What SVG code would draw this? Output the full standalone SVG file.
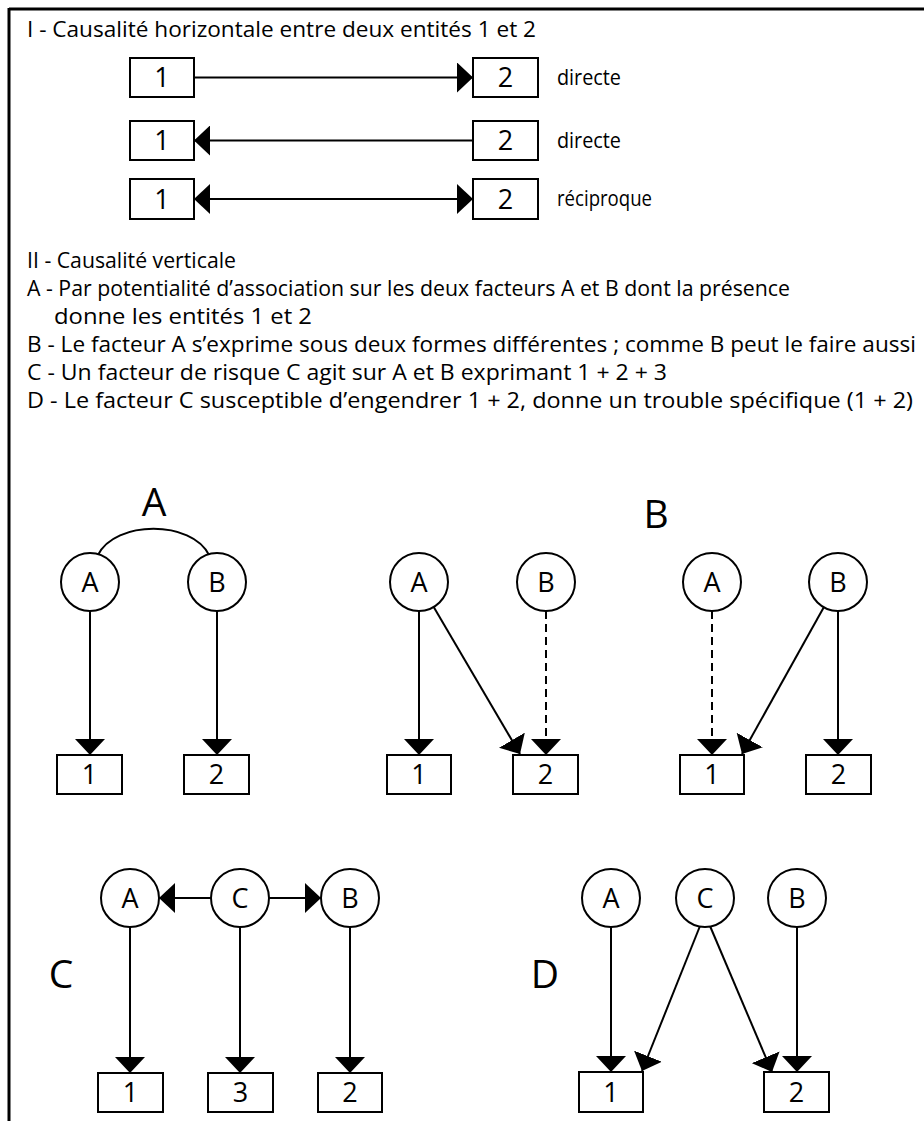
<svg xmlns="http://www.w3.org/2000/svg" width="924" height="1121" viewBox="0 0 924 1121">
<style>
.t{font-family:"Open Sans","Liberation Sans",sans-serif;font-size:21px;fill:#000}
.d{font-family:"Open Sans","Liberation Sans",sans-serif;font-size:27px;fill:#000;text-anchor:middle}
.big{font-family:"Open Sans","Liberation Sans",sans-serif;font-size:39px;fill:#000;text-anchor:middle}
.box{fill:#fff;stroke:#000;stroke-width:2}
.cir{fill:#fff;stroke:#000;stroke-width:2}
.ln{fill:none;stroke:#000;stroke-width:2}
.ar{fill:none;stroke:#000;stroke-width:2;marker-end:url(#ah)}
.dash{stroke-dasharray:8 5}
.frame{stroke:#000;stroke-width:3;fill:none}
</style>
<defs>
<marker id="ah" markerUnits="userSpaceOnUse" viewBox="0 0 16 30" refX="16" refY="15" markerWidth="16" markerHeight="30" orient="auto">
<path d="M0,0 L16,15 L0,30 Z" fill="#000"/>
</marker>
<marker id="ahs" markerUnits="userSpaceOnUse" viewBox="0 0 16 30" refX="0" refY="15" markerWidth="16" markerHeight="30" orient="auto">
<path d="M16,0 L0,15 L16,30 Z" fill="#000"/>
</marker>
</defs>
<rect x="0" y="0" width="924" height="1121" fill="#fff"/>
<g id="frame">
<line class="frame" x1="9" y1="9" x2="924" y2="9"/>
<line class="frame" x1="9" y1="8" x2="9" y2="1121"/>
</g>
<g id="texts">
<text class="t" x="27" y="37" textLength="509" lengthAdjust="spacingAndGlyphs">I - Causalité horizontale entre deux entités 1 et 2</text>
<text class="t" x="557" y="85" textLength="64" lengthAdjust="spacingAndGlyphs">directe</text>
<text class="t" x="557" y="148" textLength="64" lengthAdjust="spacingAndGlyphs">directe</text>
<text class="t" x="557" y="206" textLength="95" lengthAdjust="spacingAndGlyphs">réciproque</text>
<text class="t" x="27" y="268" textLength="209" lengthAdjust="spacingAndGlyphs">II - Causalité verticale</text>
<text class="t" x="27" y="296" textLength="763" lengthAdjust="spacingAndGlyphs">A - Par potentialité d’association sur les deux facteurs A et B dont la présence</text>
<text class="t" x="54" y="324" textLength="258" lengthAdjust="spacingAndGlyphs">donne les entités 1 et 2</text>
<text class="t" x="27" y="352" textLength="889" lengthAdjust="spacingAndGlyphs">B - Le facteur A s’exprime sous deux formes différentes ; comme B peut le faire aussi</text>
<text class="t" x="27" y="380" textLength="640" lengthAdjust="spacingAndGlyphs">C - Un facteur de risque C agit sur A et B exprimant 1 + 2 + 3</text>
<text class="t" x="27" y="408" textLength="886" lengthAdjust="spacingAndGlyphs">D - Le facteur C susceptible d’engendrer 1 + 2, donne un trouble spécifique (1 + 2)</text>
<text class="big" x="154" y="516">A</text>
<text class="big" x="656" y="528">B</text>
<text class="big" x="61" y="988">C</text>
<text class="big" x="545" y="988">D</text>
</g>
<g id="connectors">
<line class="ar" x1="194" y1="77.5" x2="473" y2="77.5"/>
<line class="ar" x1="473" y1="140.5" x2="194" y2="140.5"/>
<line class="ar" x1="194" y1="199" x2="473" y2="199" style="marker-start:url(#ahs)"/>
<path class="ln" d="M98 555 C115 520 192 520 209 555"/>
<line class="ar" x1="90" y1="611" x2="90" y2="755"/>
<line class="ar" x1="217" y1="611" x2="217" y2="755"/>
<line class="ar" x1="419" y1="611" x2="419" y2="755"/>
<line class="ar" x1="433.7" y1="607" x2="520" y2="754"/>
<line class="ar dash" x1="546" y1="611" x2="546" y2="755"/>
<line class="ar dash" x1="712" y1="611" x2="712" y2="755"/>
<line class="ar" x1="823.8" y1="607.3" x2="742" y2="754"/>
<line class="ar" x1="838" y1="611" x2="838" y2="755"/>
<line class="ar" x1="211" y1="898" x2="159" y2="898"/>
<line class="ar" x1="269" y1="898" x2="321" y2="898"/>
<line class="ar" x1="130" y1="927" x2="130" y2="1073"/>
<line class="ar" x1="240" y1="927" x2="240" y2="1073"/>
<line class="ar" x1="350" y1="927" x2="350" y2="1073"/>
<line class="ar" x1="611" y1="927" x2="611" y2="1072"/>
<line class="ar" x1="700" y1="926" x2="642" y2="1071"/>
<line class="ar" x1="710" y1="926" x2="772" y2="1072"/>
<line class="ar" x1="797" y1="927" x2="797" y2="1072"/>
</g>
<g id="h1a"><rect class="box" x="130" y="58" width="64" height="39"/><text class="d" x="162" y="87">1</text></g>
<g id="h1b"><rect class="box" x="473" y="58" width="65" height="39"/><text class="d" x="505.5" y="87">2</text></g>
<g id="h2a"><rect class="box" x="130" y="121" width="64" height="39"/><text class="d" x="162" y="150">1</text></g>
<g id="h2b"><rect class="box" x="473" y="121" width="65" height="39"/><text class="d" x="505.5" y="150">2</text></g>
<g id="h3a"><rect class="box" x="130" y="179" width="64" height="40"/><text class="d" x="162" y="209">1</text></g>
<g id="h3b"><rect class="box" x="473" y="179" width="65" height="40"/><text class="d" x="505.5" y="209">2</text></g>
<g id="a_A"><circle class="cir" cx="90" cy="582" r="29"/><text class="d" x="90" y="592">A</text></g>
<g id="a_B"><circle class="cir" cx="217" cy="582" r="29"/><text class="d" x="217" y="592">B</text></g>
<g id="a_1"><rect class="box" x="57" y="755" width="65" height="39"/><text class="d" x="89.5" y="784">1</text></g>
<g id="a_2"><rect class="box" x="184" y="755" width="65" height="39"/><text class="d" x="216.5" y="784">2</text></g>
<g id="b1_A"><circle class="cir" cx="419" cy="582" r="29"/><text class="d" x="419" y="592">A</text></g>
<g id="b1_B"><circle class="cir" cx="546" cy="582" r="29"/><text class="d" x="546" y="592">B</text></g>
<g id="b1_1"><rect class="box" x="387" y="755" width="64" height="39"/><text class="d" x="419" y="784">1</text></g>
<g id="b1_2"><rect class="box" x="513" y="755" width="65" height="39"/><text class="d" x="545.5" y="784">2</text></g>
<g id="b2_A"><circle class="cir" cx="712" cy="582" r="29"/><text class="d" x="712" y="592">A</text></g>
<g id="b2_B"><circle class="cir" cx="838" cy="582" r="29"/><text class="d" x="838" y="592">B</text></g>
<g id="b2_1"><rect class="box" x="680" y="755" width="64" height="39"/><text class="d" x="712" y="784">1</text></g>
<g id="b2_2"><rect class="box" x="806" y="755" width="65" height="39"/><text class="d" x="838.5" y="784">2</text></g>
<g id="c_A"><circle class="cir" cx="130" cy="898" r="29"/><text class="d" x="130" y="908">A</text></g>
<g id="c_C"><circle class="cir" cx="240" cy="898" r="29"/><text class="d" x="240" y="908">C</text></g>
<g id="c_B"><circle class="cir" cx="350" cy="898" r="29"/><text class="d" x="350" y="908">B</text></g>
<g id="c_1"><rect class="box" x="98" y="1073" width="65" height="39"/><text class="d" x="130.5" y="1102">1</text></g>
<g id="c_3"><rect class="box" x="208" y="1073" width="65" height="39"/><text class="d" x="240.5" y="1102">3</text></g>
<g id="c_2"><rect class="box" x="318" y="1073" width="64" height="39"/><text class="d" x="350" y="1102">2</text></g>
<g id="d_A"><circle class="cir" cx="611" cy="898" r="29"/><text class="d" x="611" y="908">A</text></g>
<g id="d_C"><circle class="cir" cx="705" cy="898" r="29"/><text class="d" x="705" y="908">C</text></g>
<g id="d_B"><circle class="cir" cx="797" cy="898" r="29"/><text class="d" x="797" y="908">B</text></g>
<g id="d_1"><rect class="box" x="579" y="1072" width="64" height="40"/><text class="d" x="611" y="1102">1</text></g>
<g id="d_2"><rect class="box" x="764" y="1072" width="65" height="40"/><text class="d" x="796.5" y="1102">2</text></g>
</svg>
